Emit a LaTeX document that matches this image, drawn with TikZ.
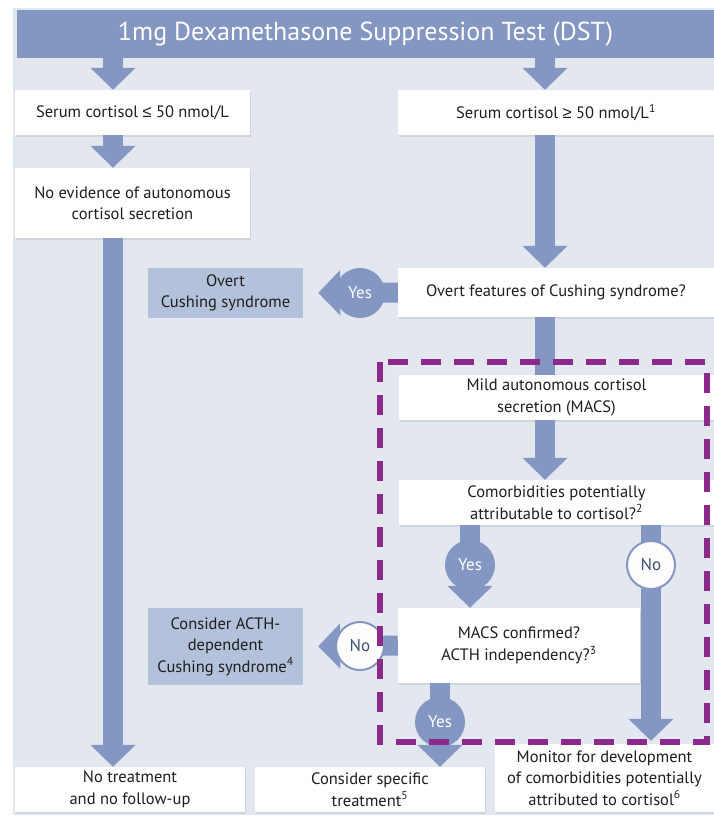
\documentclass[tikz,border=0pt]{standalone}
\usepackage{fontspec}
\setmainfont{PT Sans}
\newfontfamily\symf{Liberation Sans}
\usetikzlibrary{arrows.meta,shadows}
\definecolor{bgblue}{HTML}{E2E7F0}
\definecolor{flowblue}{HTML}{8397C2}
\definecolor{paleblue}{HTML}{B3C1DA}
\definecolor{txtgray}{HTML}{1E1E1E}
\definecolor{nogray}{HTML}{3E5075}
\definecolor{macspurple}{HTML}{8B2A8A}

\begin{document}
\begin{tikzpicture}[x=1pt,y=-1pt,
	box/.style={fill=white, text=txtgray, align=center, inner sep=2pt, font=\fontsize{16.5}{21.5}\selectfont, drop shadow={opacity=0.18, shadow xshift=1pt, shadow yshift=-2pt}},
	pale/.style={fill=paleblue, text=txtgray, align=center, inner sep=2pt, font=\fontsize{16.5}{21.5}\selectfont},
	flow/.style={draw=flowblue, line width=20pt, -{Triangle[width=44pt,length=22pt]}},
	stem/.style={draw=flowblue, line width=20pt},
	yesdot/.style={circle, fill=flowblue, text=white, minimum size=50pt, inner sep=0pt, font=\fontsize{17}{19}\selectfont},
	nodot/.style={circle, fill=white!92!bgblue, draw=flowblue, line width=2pt, text=nogray, minimum size=48pt, inner sep=0pt, font=\fontsize{17}{19}\selectfont}]
		\begingroup
		\useasboundingbox (0,0) rectangle (714,817);
		\fill[bgblue] (13,8) rectangle (714,815);
		
		% header and boxes
		\node[fill=flowblue, text=white, minimum width=697pt, minimum height=48pt, font=\fontsize{26}{28}\selectfont] (hdr) at (365.5,34) {1mg Dexamethasone Suppression Test (DST)};
		\node[box, minimum width=235pt, minimum height=45pt] (srlo) at (132.5,112.5) {Serum cortisol {\symf ≤} 50 nmol/L};
		\node[box, minimum width=316pt, minimum height=45pt] (srhi) at (556,112.5) {Serum cortisol {\symf ≥} 50 nmol/L\textsuperscript{1}};
		\node[box, minimum width=235pt, minimum height=70pt] (noev) at (132.5,203) {No evidence of autonomous\\cortisol secretion};
		\node[box, minimum width=316pt, minimum height=49pt] (overtq) at (556,292.5) {Overt features of Cushing syndrome?};
		\node[pale, minimum width=155pt, minimum height=50pt] (overt) at (225.5,293) {Overt\\Cushing syndrome};
		\node[box, minimum width=315pt, minimum height=45pt] (macs) at (556.5,397.5) {Mild autonomous cortisol\\secretion (MACS)};
		\node[box, minimum width=315pt, minimum height=45pt] (comorb) at (556.5,502.5) {Comorbidities potentially\\attributable to cortisol?\textsuperscript{2}};
		\node[box, minimum width=242pt, minimum height=75pt] (confirm) at (519,645.5) {MACS confirmed?\\ACTH independency?\textsuperscript{3}};
		\node[pale, minimum width=155pt, minimum height=77pt] (acth) at (225.5,646.5) {Consider ACTH-\\dependent\\Cushing syndrome\textsuperscript{4}};
		\node[box, minimum width=230pt, minimum height=45pt] (notreat) at (130,789.5) {No treatment\\and no follow-up};
		\node[box, minimum width=230pt, minimum height=45pt] (specific) at (370,789.5) {Consider specific\\treatment\textsuperscript{5}};
		\node[box, minimum width=219pt, minimum height=68pt] (monitor) at (604.5,778) {Monitor for development\\of comorbidities potentially\\attributed to cortisol\textsuperscript{6}};
		
		% columns of the arrows
		\coordinate (lcol) at (113,0);
		\coordinate (rcol) at (545,0);
		\coordinate (ycol) at (470,0);
		\coordinate (y3col) at (440,0);
		\coordinate (ncol) at (651,0);
		
		\draw[flow] (hdr.south -| lcol) -- (srlo.north -| lcol);
		\draw[flow] (srlo.south -| lcol) -- (noev.north -| lcol);
		\draw[flow] (noev.south -| lcol) -- (notreat.north -| lcol);
		\draw[flow] (hdr.south -| rcol) -- (srhi.north -| rcol);
		\draw[flow] (srhi.south -| rcol) -- (overtq.north -| rcol);
		\draw[flow, shorten >=15pt] (overtq.west) -- (overt.east);
		\draw[stem] (overtq.south -| rcol) -- (macs.north -| rcol);
		\draw[flow] (macs.south -| rcol) -- (comorb.north -| rcol);
		\draw[flow] (comorb.south -| ycol) -- (confirm.north -| ycol);
		\draw[flow, shorten >=3pt] (comorb.south -| ncol) -- (monitor.north -| ncol);
		\draw[flow, shorten >=15pt] (confirm.west) -- (acth.east);
		\draw[flow] (confirm.south -| y3col) -- (specific.north -| y3col);
		
		% yes / no marks
		\node[yesdot] (yes1) at (360,293) {Yes};
		\node[yesdot] (yes2) at (470,565) {Yes};
		\node[nodot] (no1) at (651,565) {No};
		\node[nodot] (no2) at (360,646) {No};
		\node[yesdot] (yes3) at (440,722) {Yes};
		
		\draw[macspurple, line width=6pt, dash pattern=on 20pt off 13pt] (380,362) rectangle (707,742);
		\endgroup
\end{tikzpicture}
\end{document}
